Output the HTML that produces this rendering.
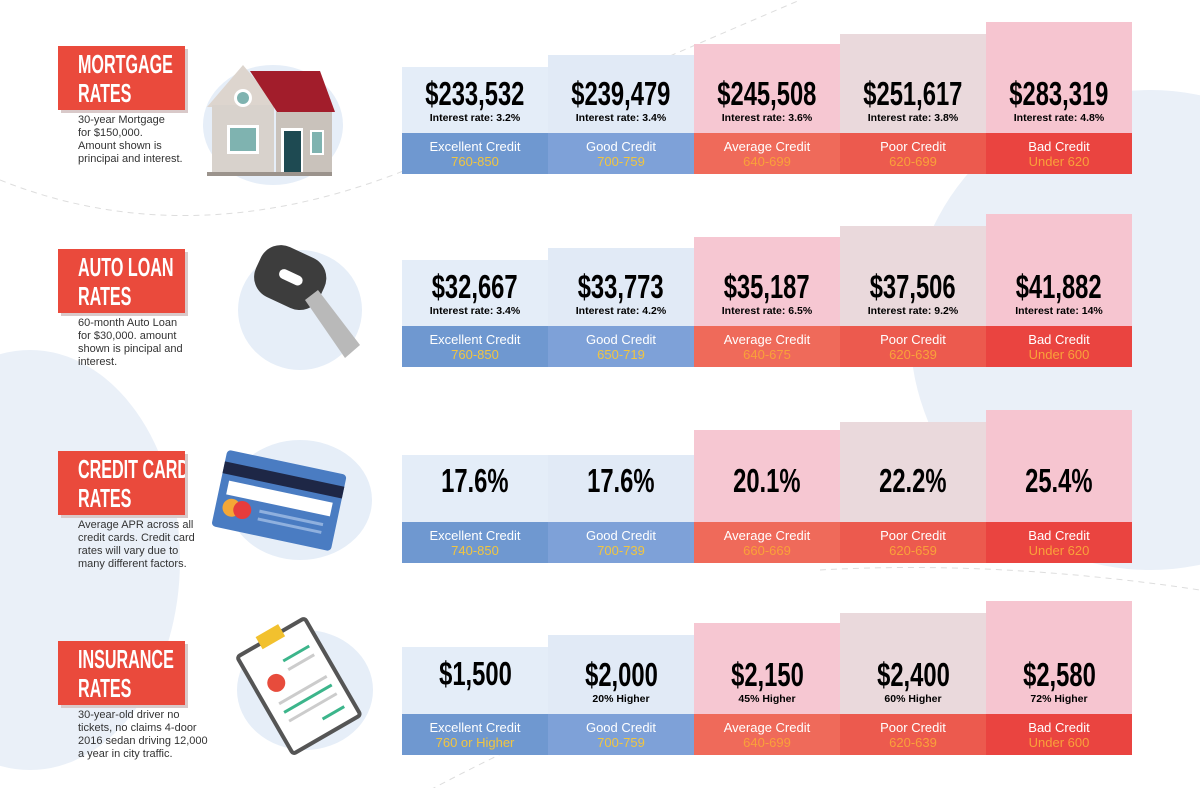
<!DOCTYPE html>
<html><head><meta charset="utf-8"><style>
body{margin:0;width:1200px;height:788px;overflow:hidden;background:#fff;position:relative;font-family:"Liberation Sans",sans-serif}
.a{position:absolute}
.tb{position:absolute;left:58px;width:127px;height:64px;background:#ea4a3c;box-shadow:3px 3px 0 #d9c9c9;overflow:hidden}
.tb span{position:absolute;left:20px;top:4px;color:#fff;font-weight:bold;font-size:26px;line-height:29px;transform:scaleX(.62);transform-origin:left top;white-space:nowrap}
.desc{position:absolute;left:78px;font-size:11px;line-height:13px;color:#333;width:135px}
.col{position:absolute;width:146px}
.num{position:absolute;width:146px;text-align:center;font-weight:bold;font-size:33px;color:#000}
.num span{display:inline-block;transform:scaleX(.72)}
.sub{position:absolute;width:146px;text-align:center;font-weight:bold;font-size:10.5px;color:#000}
.bar{position:absolute;width:146px;height:41px;text-align:center;color:#fff;font-size:13px;line-height:15px;padding-top:6px;box-sizing:border-box}
</style></head><body>
<svg class="a" style="left:0;top:0" width="1200" height="788">
<circle cx="1150" cy="330" r="240" fill="#eaf0f8"/>
<ellipse cx="30" cy="560" rx="150" ry="210" fill="#eaf0f8"/>
<path d="M0 180 Q200 260 430 160 T800 0" stroke="#ddd" stroke-dasharray="6 5" fill="none"/>
<path d="M820 570 Q1000 560 1200 590" stroke="#ddd" stroke-dasharray="6 5" fill="none"/>
<path d="M430 790 Q600 700 760 650" stroke="#ddd" stroke-dasharray="6 5" fill="none"/>
<ellipse cx="273" cy="125" rx="70" ry="60" fill="#e6eef8"/>
<polygon points="207,107 243,65 278,107" fill="#ddd5ce"/>
<rect x="212" y="105" width="62" height="70" fill="#d8d2cc"/>
<polygon points="250,71 320,71 335,112 277,112" fill="#a21d2b"/>
<rect x="276" y="112" width="56" height="63" fill="#c9c2bb"/>
<circle cx="243" cy="98" r="9" fill="#fff"/><circle cx="243" cy="98" r="6" fill="#7fb3b0"/>
<rect x="227" y="125" width="32" height="29" fill="#fff"/><rect x="230" y="128" width="26" height="23" fill="#7fb3b0"/>
<rect x="281" y="128" width="22" height="47" fill="#fff"/><rect x="284" y="131" width="17" height="44" fill="#1e4a52"/>
<rect x="310" y="130" width="14" height="25" fill="#fff"/><rect x="312" y="132" width="10" height="21" fill="#7fb3b0"/>
<rect x="207" y="172" width="125" height="4" fill="#9b938c"/>
<ellipse cx="300" cy="310" rx="62" ry="60" fill="#e6eef8"/>
<rect x="255" y="250" width="70" height="55" rx="22" fill="#3d3d3d" transform="rotate(25 290 278)"/>
<rect x="278" y="272" width="25" height="10" rx="5" fill="#fff" transform="rotate(25 290 278)"/>
<polygon points="305,300 318,290 360,345 345,358" fill="#b9b9b9"/>
<ellipse cx="300" cy="500" rx="72" ry="60" fill="#e6eef8"/>
<g transform="rotate(12 272 500)"><rect x="218" y="460" width="122" height="78" rx="4" fill="#4a7cc2"/>
<rect x="218" y="472" width="122" height="12" fill="#1e2746"/><rect x="226" y="490" width="106" height="14" fill="#fff"/>
<circle cx="234" cy="516" r="9" fill="#f4a736"/><circle cx="245" cy="516" r="9" fill="#e63c3c"/>
<rect x="262" y="512" width="65" height="3" fill="#8fb0de"/><rect x="262" y="520" width="65" height="3" fill="#8fb0de"/></g>
<ellipse cx="305" cy="690" rx="68" ry="60" fill="#e6eef8"/>
<g transform="rotate(-30 300 690)"><rect x="262" y="630" width="78" height="112" rx="3" fill="#fff" stroke="#555" stroke-width="4"/>
<rect x="288" y="622" width="26" height="14" fill="#f2c12e"/>
<circle cx="283" cy="672" r="9" fill="#e74c3c"/>
<rect x="300" y="655" width="30" height="3" fill="#3cb58b"/><rect x="300" y="665" width="30" height="3" fill="#ccc"/><rect x="275" y="690" width="55" height="3" fill="#ccc"/><rect x="275" y="700" width="55" height="3" fill="#3cb58b"/><rect x="275" y="710" width="55" height="3" fill="#ccc"/><rect x="305" y="725" width="25" height="3" fill="#3cb58b"/></g>
</svg>

<div class="tb" style="top:46px"><span>MORTGAGE<br>RATES</span></div>
<div class="desc" style="top:114px">30-year Mortgage<br>for $150,000.<br>Amount shown is<br>principai and interest.</div>
<div class="tb" style="top:249px"><span>AUTO LOAN<br>RATES</span></div>
<div class="desc" style="top:317px">60-month Auto Loan<br>for $30,000. amount<br>shown is pincipal and<br>interest.</div>
<div class="tb" style="top:451px"><span>CREDIT CARD<br>RATES</span></div>
<div class="desc" style="top:519px">Average APR across all<br>credit cards. Credit card<br>rates will vary due to<br>many different factors.</div>
<div class="tb" style="top:641px"><span>INSURANCE<br>RATES</span></div>
<div class="desc" style="top:709px">30-year-old driver no<br>tickets, no claims 4-door<br>2016 sedan driving 12,000<br>a year in city traffic.</div>

<div id="c"></div>
<script>
const X=[402,548,694,840,986];
const top_=["#e4edf8","#e1eaf6","#f6c7d2","#ead9dc","#f6c5d0"];
const bar=["#6f98d0","#7ea1d8","#ef6a5a","#ec5a4e","#ea4440"];
const rc=["#f1c540","#f1c540","#f9a13a","#f9a13a","#f9a13a"];
const names=["Excellent Credit","Good Credit","Average Credit","Poor Credit","Bad Credit"];
const rows=[
{b:133,t:[67,55,44,34,22],n:["$233,532","$239,479","$245,508","$251,617","$283,319"],s:["Interest rate:  3.2%","Interest rate:  3.4%","Interest rate: 3.6%","Interest rate: 3.8%","Interest rate: 4.8%"],r:["760-850","700-759","640-699","620-699","Under 620"]},
{b:326,t:[260,248,237,226,214],n:["$32,667","$33,773","$35,187","$37,506","$41,882"],s:["Interest rate:  3.4%","Interest rate:  4.2%","Interest rate: 6.5%","Interest rate:  9.2%","Interest rate: 14%"],r:["760-850","650-719","640-675","620-639","Under 600"]},
{b:522,t:[455,455,430,422,410],n:["17.6%","17.6%","20.1%","22.2%","25.4%"],s:["","","","",""],r:["740-850","700-739","660-669","620-659","Under 620"]},
{b:714,t:[647,635,623,613,601],n:["$1,500","$2,000","$2,150","$2,400","$2,580"],s:["","20% Higher","45% Higher","60% Higher","72% Higher"],r:["760 or Higher","700-759","640-699","620-639","Under 600"]}];
let h="";
rows.forEach((R,ri)=>{for(let i=0;i<5;i++){const x=X[i];
h+=`<div class="col" style="left:${x}px;top:${R.t[i]}px;height:${R.b-R.t[i]}px;background:${top_[i]}"></div>`;
const ny=R.s[i]?R.b-58:(ri==2?R.b-60:R.b-59);
h+=`<div class="num" style="left:${x}px;top:${ny}px"><span>${R.n[i]}</span></div>`;
if(R.s[i])h+=`<div class="sub" style="left:${x}px;top:${R.b-21}px">${R.s[i]}</div>`;
h+=`<div class="bar" style="left:${x}px;top:${R.b}px;background:${bar[i]}">${names[i]}<br><span style="color:${rc[i]}">${R.r[i]}</span></div>`;}});
document.getElementById("c").innerHTML=h;
</script>
</body></html>
